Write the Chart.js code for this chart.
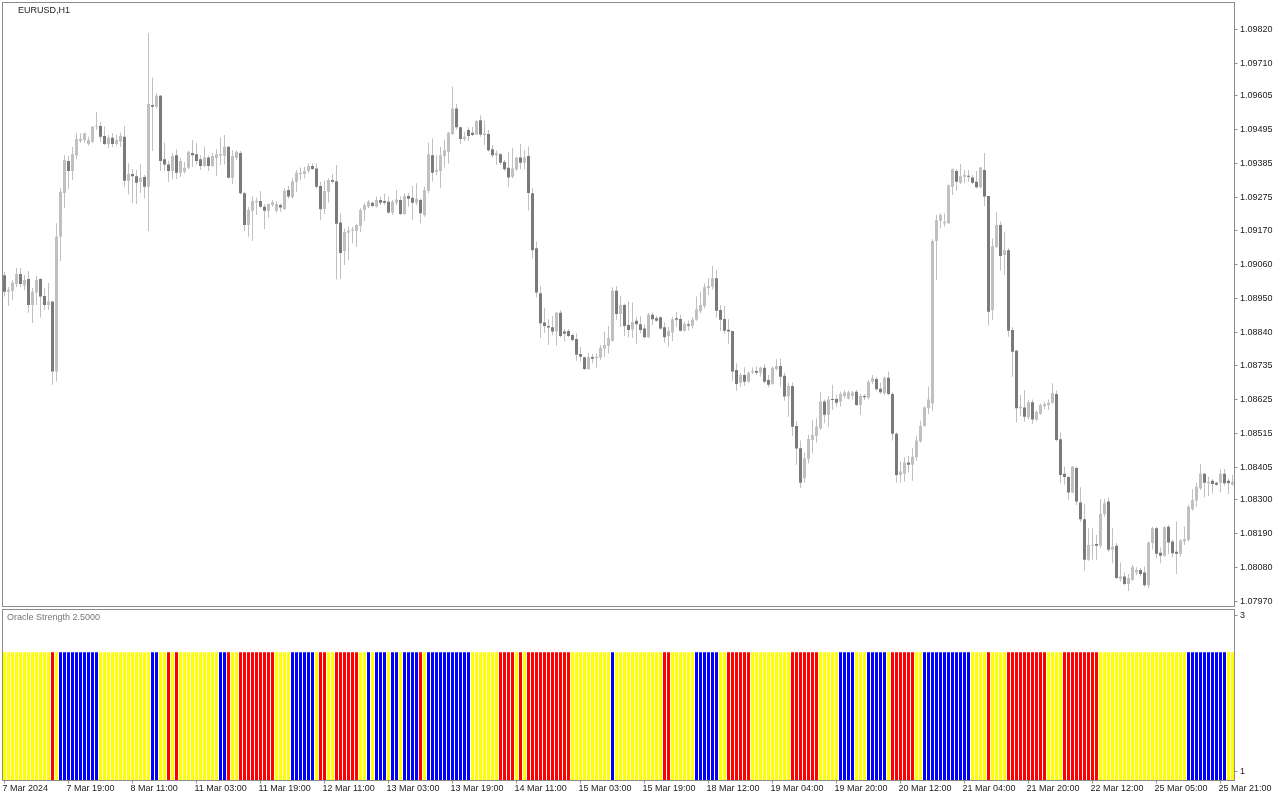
<!DOCTYPE html>
<html><head><meta charset="utf-8">
<script src="https://cdn.jsdelivr.net/npm/chart.js@4.4.1/dist/chart.umd.min.js"></script>
<style>
html,body{margin:0;padding:0;background:#fff;width:1280px;height:800px;overflow:hidden;}
#main{position:absolute;left:0;top:0;}
#ind{position:absolute;left:0;top:607px;}
.lbl{position:absolute;font:9px "Liberation Sans",Arial,sans-serif;white-space:nowrap;line-height:10px;}
</style></head><body>
<canvas id="main" width="1280" height="608"></canvas>
<canvas id="ind" width="1280" height="193"></canvas>
<div class="lbl" style="left:18px;top:5px;color:#222">EURUSD,H1</div>
<div class="lbl" style="left:7px;top:612px;color:#777">Oracle Strength 2.5000</div>
<script>
const opens = [
1.09025,1.08972,1.08975,1.08997,1.09029,1.08993,1.09013,1.08929,1.08969,1.09013,
1.08958,1.08929,1.08940,1.08714,1.09149,1.09291,1.09394,1.09362,1.09413,1.09459,
1.09462,1.09449,1.09456,1.09505,1.09507,1.09475,1.09449,1.09469,1.09449,1.09456,
1.09472,1.09330,1.09352,1.09345,1.09327,1.09342,1.09311,1.09575,1.09569,1.09605,
1.09400,1.09383,1.09362,1.09413,1.09356,1.09359,1.09372,1.09420,1.09416,1.09400,
1.09378,1.09405,1.09378,1.09404,1.09411,1.09411,1.09440,1.09340,1.09404,1.09420,
1.09290,1.09187,1.09233,1.09261,1.09265,1.09246,1.09233,1.09252,1.09233,1.09252,
1.09239,1.09300,1.09277,1.09327,1.09352,1.09352,1.09362,1.09378,1.09370,1.09313,
1.09239,1.09295,1.09333,1.09329,1.09195,1.09103,1.09162,1.09169,1.09169,1.09184,
1.09236,1.09246,1.09259,1.09246,1.09268,1.09265,1.09262,1.09228,1.09259,1.09268,
1.09223,1.09281,1.09275,1.09259,1.09268,1.09220,1.09298,1.09413,1.09359,1.09362,
1.09410,1.09424,1.09481,1.09564,1.09503,1.09465,1.09494,1.09485,1.09480,1.09526,
1.09478,1.09481,1.09432,1.09413,1.09416,1.09391,1.09372,1.09343,1.09367,1.09405,
1.09388,1.09410,1.09290,1.09112,1.08967,1.08872,1.08861,1.08857,1.08843,1.08904,
1.08843,1.08845,1.08832,1.08819,1.08771,1.08760,1.08722,1.08761,1.08757,1.08759,
1.08788,1.08797,1.08813,1.08975,1.08900,1.08929,1.08864,1.08850,1.08878,1.08867,
1.08853,1.08825,1.08897,1.08886,1.08889,1.08857,1.08829,1.08840,1.08886,1.08884,
1.08846,1.08867,1.08862,1.08881,1.08909,1.08926,1.08984,1.08988,1.09015,1.08913,
1.08884,1.08849,1.08845,1.08719,1.08678,1.08703,1.08681,1.08712,1.08716,1.08710,
1.08726,1.08687,1.08674,1.08722,1.08732,1.08700,1.08633,1.08667,1.08538,1.08466,
1.08369,1.08432,1.08493,1.08506,1.08531,1.08617,1.08574,1.08625,1.08625,1.08617,
1.08635,1.08627,1.08635,1.08649,1.08606,1.08635,1.08629,1.08681,1.08690,1.08658,
1.08644,1.08694,1.08641,1.08513,1.08380,1.08384,1.08420,1.08413,1.08437,1.08488,
1.08538,1.08595,1.08611,1.09136,1.09201,1.09193,1.09193,1.09311,1.09362,1.09324,
1.09343,1.09346,1.09341,1.09327,1.09309,1.09365,1.09281,1.08913,1.09116,1.09187,
1.09090,1.09106,1.08848,1.08781,1.08595,1.08598,1.08566,1.08615,1.08559,1.08577,
1.08603,1.08606,1.08613,1.08641,1.08495,1.08384,1.08373,1.08323,1.08402,1.08291,
1.08237,1.08106,1.08151,1.08157,1.08151,1.08254,1.08294,1.08138,1.08151,1.08044,
1.08052,1.08028,1.08041,1.08065,1.08073,1.08065,1.08024,1.08160,1.08208,1.08129,
1.08119,1.08213,1.08165,1.08132,1.08125,1.08165,1.08170,1.08269,1.08297,1.08337,
1.08384,1.08353,1.08361,1.08355,1.08355,1.08384,1.08361,1.08348];
const highs = [
1.09036,1.08987,1.09010,1.09048,1.09048,1.09026,1.09039,1.08984,1.09023,1.09016,
1.08984,1.09000,1.08942,1.09193,1.09307,1.09413,1.09410,1.09439,1.09484,1.09484,
1.09485,1.09472,1.09507,1.09553,1.09521,1.09505,1.09478,1.09484,1.09478,1.09485,
1.09507,1.09387,1.09368,1.09365,1.09384,1.09349,1.09807,1.09663,1.09613,1.09607,
1.09453,1.09394,1.09420,1.09432,1.09404,1.09391,1.09426,1.09462,1.09453,1.09413,
1.09440,1.09411,1.09420,1.09432,1.09470,1.09478,1.09442,1.09429,1.09429,1.09426,
1.09295,1.09246,1.09279,1.09275,1.09297,1.09254,1.09257,1.09268,1.09263,1.09257,
1.09306,1.09313,1.09338,1.09365,1.09373,1.09375,1.09386,1.09386,1.09386,1.09327,
1.09330,1.09338,1.09352,1.09381,1.09227,1.09176,1.09182,1.09182,1.09191,1.09241,
1.09257,1.09268,1.09262,1.09279,1.09279,1.09289,1.09279,1.09268,1.09300,1.09279,
1.09290,1.09290,1.09313,1.09322,1.09273,1.09311,1.09453,1.09467,1.09413,1.09440,
1.09463,1.09488,1.09634,1.09578,1.09505,1.09488,1.09503,1.09505,1.09526,1.09542,
1.09524,1.09494,1.09446,1.09427,1.09420,1.09397,1.09424,1.09435,1.09407,1.09449,
1.09429,1.09442,1.09306,1.09133,1.08990,1.08918,1.08883,1.08893,1.08907,1.08913,
1.08851,1.08851,1.08836,1.08838,1.08793,1.08762,1.08773,1.08771,1.08773,1.08800,
1.08843,1.08861,1.08986,1.08990,1.08958,1.08934,1.08940,1.08936,1.08891,1.08893,
1.08867,1.08904,1.08904,1.08893,1.08891,1.08872,1.08859,1.08891,1.08907,1.08897,
1.08875,1.08878,1.08889,1.08956,1.08972,1.08999,1.09015,1.09055,1.09043,1.08929,
1.08926,1.08883,1.08846,1.08741,1.08709,1.08728,1.08714,1.08728,1.08732,1.08730,
1.08738,1.08703,1.08730,1.08754,1.08757,1.08710,1.08678,1.08678,1.08554,1.08491,
1.08452,1.08509,1.08558,1.08563,1.08649,1.08624,1.08635,1.08671,1.08638,1.08649,
1.08654,1.08652,1.08652,1.08654,1.08641,1.08641,1.08687,1.08703,1.08697,1.08678,
1.08697,1.08714,1.08646,1.08517,1.08423,1.08437,1.08442,1.08466,1.08506,1.08555,
1.08603,1.08665,1.09141,1.09220,1.09225,1.09225,1.09318,1.09370,1.09367,1.09384,
1.09365,1.09365,1.09349,1.09362,1.09375,1.09420,1.09281,1.09144,1.09230,1.09198,
1.09165,1.09112,1.08857,1.08784,1.08638,1.08654,1.08622,1.08624,1.08588,1.08611,
1.08617,1.08624,1.08676,1.08652,1.08517,1.08407,1.08377,1.08409,1.08407,1.08340,
1.08286,1.08208,1.08208,1.08186,1.08302,1.08302,1.08308,1.08208,1.08160,1.08097,
1.08065,1.08060,1.08090,1.08082,1.08079,1.08084,1.08165,1.08213,1.08213,1.08146,
1.08215,1.08219,1.08170,1.08229,1.08172,1.08213,1.08283,1.08334,1.08355,1.08416,
1.08386,1.08374,1.08366,1.08358,1.08397,1.08399,1.08369,1.08380];
const lows = [
1.08956,1.08926,1.08945,1.08987,1.08987,1.08977,1.08904,1.08871,1.08929,1.08888,
1.08913,1.08913,1.08671,1.08682,1.09071,1.09242,1.09304,1.09333,1.09400,1.09452,
1.09452,1.09444,1.09452,1.09494,1.09456,1.09446,1.09436,1.09439,1.09443,1.09439,
1.09311,1.09287,1.09258,1.09255,1.09291,1.09274,1.09168,1.09426,1.09564,1.09362,
1.09362,1.09327,1.09336,1.09336,1.09343,1.09354,1.09368,1.09375,1.09383,1.09365,
1.09375,1.09362,1.09375,1.09346,1.09381,1.09383,1.09338,1.09320,1.09397,1.09286,
1.09168,1.09149,1.09136,1.09220,1.09243,1.09174,1.09211,1.09246,1.09228,1.09230,
1.09236,1.09273,1.09273,1.09295,1.09333,1.09338,1.09356,1.09365,1.09306,1.09204,
1.09223,1.09259,1.09322,1.09011,1.09014,1.09058,1.09074,1.09128,1.09117,1.09165,
1.09200,1.09241,1.09246,1.09244,1.09252,1.09252,1.09223,1.09220,1.09252,1.09220,
1.09220,1.09246,1.09204,1.09252,1.09193,1.09214,1.09290,1.09327,1.09349,1.09306,
1.09373,1.09386,1.09478,1.09496,1.09449,1.09459,1.09459,1.09475,1.09478,1.09472,
1.09446,1.09424,1.09405,1.09381,1.09381,1.09362,1.09311,1.09338,1.09362,1.09367,
1.09367,1.09233,1.09080,1.08954,1.08822,1.08839,1.08800,1.08832,1.08797,1.08825,
1.08811,1.08825,1.08811,1.08749,1.08746,1.08719,1.08719,1.08741,1.08725,1.08752,
1.08762,1.08773,1.08811,1.08881,1.08858,1.08829,1.08825,1.08822,1.08803,1.08838,
1.08822,1.08822,1.08864,1.08875,1.08848,1.08807,1.08795,1.08813,1.08859,1.08843,
1.08843,1.08846,1.08853,1.08878,1.08902,1.08918,1.08961,1.08979,1.08889,1.08846,
1.08836,1.08803,1.08684,1.08652,1.08665,1.08667,1.08678,1.08706,1.08703,1.08697,
1.08676,1.08663,1.08671,1.08717,1.08665,1.08620,1.08568,1.08506,1.08413,1.08337,
1.08355,1.08418,1.08450,1.08484,1.08525,1.08547,1.08536,1.08590,1.08600,1.08600,
1.08627,1.08624,1.08624,1.08603,1.08574,1.08622,1.08624,1.08674,1.08652,1.08641,
1.08638,1.08638,1.08491,1.08355,1.08355,1.08358,1.08388,1.08361,1.08427,1.08484,
1.08536,1.08577,1.08587,1.09010,1.09176,1.09182,1.09191,1.09284,1.09298,1.09320,
1.09322,1.09327,1.09320,1.09306,1.09306,1.09249,1.08862,1.08881,1.09112,1.09040,
1.09026,1.08826,1.08697,1.08549,1.08570,1.08552,1.08559,1.08545,1.08555,1.08574,
1.08592,1.08590,1.08609,1.08488,1.08353,1.08348,1.08299,1.08321,1.08283,1.08228,
1.08071,1.08103,1.08106,1.08106,1.08143,1.08245,1.08132,1.08095,1.08044,1.08036,
1.08024,1.08005,1.08039,1.08057,1.08052,1.08019,1.08014,1.08140,1.08111,1.08095,
1.08116,1.08125,1.08114,1.08060,1.08116,1.08154,1.08165,1.08265,1.08277,1.08331,
1.08308,1.08312,1.08321,1.08345,1.08323,1.08345,1.08318,1.08345];
const closes = [
1.08972,1.08977,1.09001,1.09029,1.08997,1.09010,1.08929,1.08972,1.09010,1.08956,
1.08929,1.08940,1.08714,1.09149,1.09295,1.09397,1.09362,1.09416,1.09465,1.09465,
1.09484,1.09462,1.09505,1.09507,1.09472,1.09449,1.09469,1.09449,1.09462,1.09475,
1.09330,1.09352,1.09345,1.09324,1.09340,1.09311,1.09578,1.09569,1.09605,1.09394,
1.09383,1.09362,1.09410,1.09356,1.09394,1.09372,1.09424,1.09413,1.09394,1.09378,
1.09405,1.09378,1.09410,1.09416,1.09416,1.09440,1.09340,1.09410,1.09424,1.09290,
1.09187,1.09236,1.09265,1.09265,1.09246,1.09233,1.09255,1.09261,1.09255,1.09244,
1.09298,1.09279,1.09329,1.09356,1.09356,1.09362,1.09378,1.09368,1.09311,1.09238,
1.09297,1.09333,1.09327,1.09191,1.09097,1.09165,1.09169,1.09173,1.09187,1.09236,
1.09252,1.09262,1.09249,1.09268,1.09259,1.09259,1.09228,1.09262,1.09270,1.09223,
1.09281,1.09272,1.09259,1.09271,1.09225,1.09300,1.09416,1.09356,1.09365,1.09413,
1.09429,1.09485,1.09564,1.09503,1.09465,1.09472,1.09475,1.09478,1.09523,1.09480,
1.09483,1.09429,1.09413,1.09420,1.09388,1.09367,1.09341,1.09370,1.09405,1.09388,
1.09405,1.09291,1.09106,1.08969,1.08870,1.08861,1.08856,1.08843,1.08904,1.08829,
1.08836,1.08829,1.08816,1.08768,1.08762,1.08722,1.08760,1.08755,1.08762,1.08791,
1.08800,1.08822,1.08975,1.08900,1.08929,1.08861,1.08848,1.08874,1.08867,1.08848,
1.08825,1.08897,1.08883,1.08878,1.08853,1.08825,1.08845,1.08883,1.08881,1.08846,
1.08867,1.08862,1.08881,1.08915,1.08929,1.08986,1.08990,1.09015,1.08910,1.08881,
1.08846,1.08843,1.08714,1.08674,1.08703,1.08681,1.08710,1.08716,1.08710,1.08726,
1.08681,1.08671,1.08726,1.08732,1.08697,1.08633,1.08667,1.08536,1.08465,1.08355,
1.08434,1.08496,1.08509,1.08536,1.08617,1.08574,1.08624,1.08622,1.08613,1.08641,
1.08646,1.08646,1.08646,1.08606,1.08635,1.08631,1.08681,1.08692,1.08657,1.08647,
1.08694,1.08641,1.08513,1.08380,1.08391,1.08420,1.08413,1.08439,1.08491,1.08538,
1.08598,1.08624,1.09136,1.09203,1.09220,1.09198,1.09316,1.09367,1.09327,1.09345,
1.09349,1.09343,1.09324,1.09309,1.09373,1.09279,1.08907,1.09119,1.09187,1.09087,
1.09106,1.08846,1.08778,1.08595,1.08600,1.08568,1.08615,1.08559,1.08584,1.08606,
1.08609,1.08613,1.08644,1.08493,1.08380,1.08373,1.08323,1.08407,1.08294,1.08237,
1.08106,1.08154,1.08154,1.08151,1.08254,1.08288,1.08138,1.08148,1.08047,1.08052,
1.08028,1.08047,1.08082,1.08073,1.08060,1.08024,1.08162,1.08208,1.08125,1.08119,
1.08211,1.08162,1.08127,1.08125,1.08168,1.08172,1.08277,1.08299,1.08342,1.08384,
1.08355,1.08358,1.08351,1.08348,1.08384,1.08353,1.08353,1.08358];

// Oracle Strength state per bar: Y = neutral (yellow), B = blue, R = red
const strengthStates = [
  'YYYYYYYYYYYY' + 'R' + 'Y' + 'BBBBBBBBBB',
  'YYYYYYYYYYYYY' + 'BB' + 'YY' + 'R' + 'Y' + 'R' + 'YYYYYYYYYY' + 'BB' + 'R' + 'YY',
  'RRRRRRRRR' + 'YYYY' + 'BBBBBB' + 'Y' + 'RR' + 'YY' + 'RRRRRR' + 'YY' + 'B' + 'Y' + 'BBB' + 'Y' + 'BB' + 'Y' + 'BBBB' + 'R' + 'Y',
  'BBBBBBBBBBB' + 'YYYYYYY' + 'RRRR' + 'Y' + 'R' + 'Y' + 'RRRRRRRRRRR' + 'YYYYYYYYYY' + 'B' + 'YYYYYYYYYYYY',
  'RR' + 'YYYYYY' + 'BBBBBB' + 'YY' + 'RRRRRR' + 'YYYYYYYYYY' + 'RRRRRRR' + 'YYYYY' + 'BBBB' + 'YYY' + 'BBBBB' + 'Y' + 'RRRRRR' + 'YY',
  'BBBBBBBBBBBB' + 'YYYY' + 'R' + 'YYYY' + 'RRRRRRRRRR' + 'YYYY' + 'RRRRRRRRR' + 'YYYYYYYYYY' + 'YYYYYYYYYY' + 'YY' + 'BBBBBBBBBB' + 'YY'
].join('').split('');
const strengthLevel = 2.5;

const priceTickLabels = ['1.09820','1.09710','1.09605','1.09495','1.09385','1.09275','1.09170','1.09060','1.08950','1.08840','1.08735','1.08625','1.08515','1.08405','1.08300','1.08190','1.08080','1.07970'];
const timeLabels = ['7 Mar 2024','7 Mar 19:00','8 Mar 11:00','11 Mar 03:00','11 Mar 19:00','12 Mar 11:00','13 Mar 03:00','13 Mar 19:00','14 Mar 11:00','15 Mar 03:00','15 Mar 19:00','18 Mar 12:00','19 Mar 04:00','19 Mar 20:00','20 Mar 12:00','21 Mar 04:00','21 Mar 20:00','22 Mar 12:00','25 Mar 05:00','25 Mar 21:00'];
const timeLabelStep = 16;
const indicatorTickLabels = ['3','1'];

Chart.defaults.font.family = '"Liberation Sans", Arial, sans-serif';
Chart.defaults.font.size = 9;

const cats = closes.map((_, i) => i);
const bodyData = opens.map((o, i) => [o, closes[i]]);
const wickData = lows.map((l, i) => [l, highs[i]]);
const BULL = '#c0c0c0', BEAR = '#7a7a7a', WICK = '#c0c0c0', FRAME = '#8c8c8c';
const bodyColors = opens.map((o, i) => closes[i] >= o ? BULL : BEAR);
const stateColor = { Y: '#ffff00', B: '#0000ff', R: '#ff0000' };

const framePlugin = {
  id: 'frame',
  afterDraw(chart) {
    const { ctx, chartArea: a } = chart;
    ctx.save();
    ctx.strokeStyle = FRAME;
    ctx.lineWidth = 1;
    ctx.strokeRect(a.left, a.top, a.right - a.left, a.bottom - a.top);
    ctx.restore();
  }
};
function zeroPad(s) { s.paddingTop = 0; s.paddingBottom = 0; s.paddingLeft = 0; s.paddingRight = 0; }

new Chart(document.getElementById('main'), {
  type: 'bar',
  data: {
    labels: cats,
    datasets: [
      { data: wickData, backgroundColor: WICK, barThickness: 1, grouped: false, order: 2, inflateAmount: 0, borderWidth: 0 },
      { data: bodyData, backgroundColor: bodyColors, barThickness: 3, grouped: false, order: 1, inflateAmount: 0, borderWidth: 0, minBarLength: 1 }
    ]
  },
  options: {
    responsive: false, animation: false, devicePixelRatio: 1,
    layout: { padding: { left: 2.5, top: 2.5, right: 0, bottom: 1.5 } },
    plugins: { legend: { display: false }, tooltip: { enabled: false } },
    scales: {
      x: { display: false, offset: true },
      y: {
        position: 'right', min: 1.07955, max: 1.09906,
        afterBuildTicks: s => { s.ticks = priceTickLabels.map(t => ({ value: parseFloat(t) })).reverse(); },
        afterFit: s => { s.width = 45.5; zeroPad(s); },
        grid: { drawOnChartArea: false, drawTicks: true, tickLength: 3, color: FRAME, tickColor: FRAME },
        border: { display: false },
        ticks: { autoSkip: false, padding: 2.5, color: '#1a1a1a', font: { size: 9 },
                 callback: (v) => priceTickLabels.find(t => Math.abs(parseFloat(t) - v) < 1e-7) }
      }
    }
  },
  plugins: [framePlugin]
});

new Chart(document.getElementById('ind'), {
  type: 'bar',
  data: {
    labels: cats,
    datasets: [{
      data: strengthStates.map(() => strengthLevel),
      backgroundColor: strengthStates.map(s => stateColor[s]),
      barThickness: 3, inflateAmount: 0, borderWidth: 0
    }]
  },
  options: {
    responsive: false, animation: false, devicePixelRatio: 1,
    layout: { padding: { left: 2.5, top: 2.5, right: 0, bottom: 0 } },
    plugins: { legend: { display: false }, tooltip: { enabled: false } },
    scales: {
      x: {
        position: 'bottom', offset: true,
        afterFit: s => { s.height = 19.5; zeroPad(s); },
        grid: { offset: false, drawOnChartArea: false, drawTicks: true, tickLength: 3, color: FRAME, tickColor: FRAME },
        border: { display: false },
        ticks: { autoSkip: false, maxRotation: 0, minRotation: 0, align: 'start', padding: 0, labelOffset: -2, color: '#1a1a1a', font: { size: 9 },
                 callback: (v, i) => (i % timeLabelStep === 0 && timeLabels[i / timeLabelStep]) ? timeLabels[i / timeLabelStep] : null }
      },
      y: {
        position: 'right', min: 1, max: 3,
        afterBuildTicks: s => { s.ticks = [{ value: 1.1 }, { value: 2.924 }]; },
        afterFit: s => { s.width = 45.5; zeroPad(s); },
        grid: { drawOnChartArea: false, drawTicks: true, tickLength: 3, color: FRAME, tickColor: FRAME },
        border: { display: false },
        ticks: { autoSkip: false, padding: 2.5, color: '#1a1a1a', font: { size: 9 },
                 callback: (v) => v > 2 ? indicatorTickLabels[0] : indicatorTickLabels[1] }
      }
    }
  },
  plugins: [framePlugin]
});
</script>
</body></html>
